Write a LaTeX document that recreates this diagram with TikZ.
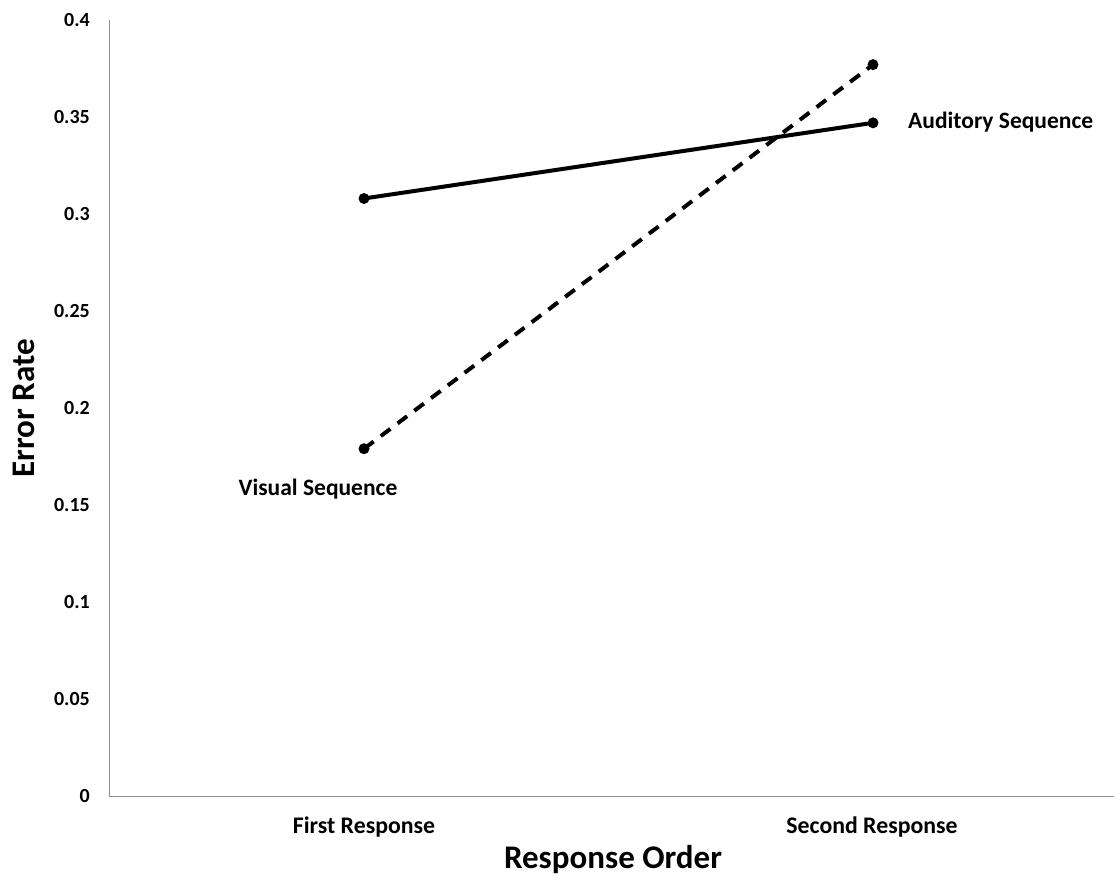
\documentclass[tikz,border=0pt]{standalone}
\usepackage{fontspec}
\setmainfont{Carlito}
\begin{document}
\begin{tikzpicture}[x=1pt,y=-1pt,
  ticklabel/.style={font=\bfseries\fontsize{20}{21}\selectfont, anchor=east, inner sep=0pt},
  catlabel/.style={font=\bfseries\fontsize{23.8}{25}\selectfont, inner sep=0pt},
  axistitle/.style={font=\bfseries\fontsize{33}{35}\selectfont, inner sep=0pt},
  serieslabel/.style={font=\bfseries\fontsize{23.5}{25}\selectfont, inner sep=0pt},
  axisline/.style={draw=black!45, line width=0.9pt},
  solidseries/.style={line width=4pt, line cap=round},
  dashseries/.style={line width=4pt, dash pattern=on 12pt off 9pt},
  marker/.style={circle, fill=black, minimum size=11pt, inner sep=0pt}
]
\useasboundingbox (0,0) rectangle (1116,886);

% axes
\coordinate (origin) at (109.5,796);
\coordinate (ytop) at (109.5,20);
\coordinate (xend) at (1114,796);
\draw[axisline] (ytop) -- (origin) -- (xend);

% y tick labels (0 .. 0.4, 97 px per 0.05)
\foreach \v/\t [count=\i from 0] in {0/0,0.05/0.05,0.1/0.1,0.15/0.15,0.2/0.2,0.25/0.25,0.3/0.3,0.35/0.35,0.4/0.4}
  \node[ticklabel] (tick\i) at (90,{796-\v*1940}) {\t};

% category labels
\node[catlabel] (cat1) at (364,827) {First Response};
\node[catlabel] (cat2) at (872,827) {Second Response};

% axis titles
\node[axistitle] (xtitle) at (613,860) {Response Order};
\node[axistitle, rotate=90] (ytitle) at (24,408) {Error Rate};

% data points
\node[marker] (a1) at (364,{796-0.308*1940}) {};
\node[marker] (a2) at (873,{796-0.347*1940}) {};
\node[marker] (v1) at (364,{796-0.179*1940}) {};
\node[marker] (v2) at (873,{796-0.377*1940}) {};

% series
\draw[solidseries] (a1.center) -- (a2.center);
\draw[dashseries] (v1.center) -- (v2.center);

% series labels
\node[serieslabel, anchor=west] (alab) at (908,122) {Auditory Sequence};
\node[serieslabel] (vlab) at (318,489) {Visual Sequence};
\end{tikzpicture}
\end{document}
